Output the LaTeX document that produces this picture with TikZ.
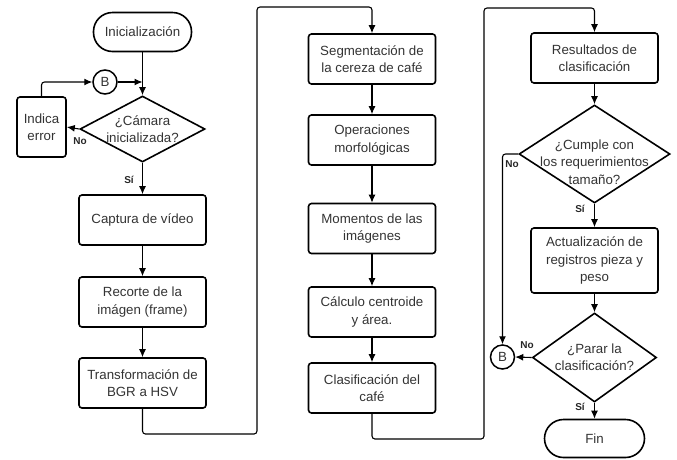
\documentclass[tikz,border=0pt]{standalone}
\usepackage{fontspec}
\setmainfont{Liberation Sans}
\usetikzlibrary{shapes.geometric,arrows.meta}
\tikzset{
 txt/.style={font=\fontsize{13.3}{17.3}\selectfont, text=black!80},
 box/.style={draw, line width=1.6pt, rounded corners=3pt, minimum width=127pt, minimum height=50pt, align=center, inner sep=1pt, txt},
 term/.style={draw, line width=1.6pt, rounded corners=19pt, minimum width=98pt, minimum height=39pt, txt},
 dec/.style={draw, diamond, line width=1.6pt, inner sep=0pt},
 conn/.style={draw, circle, line width=1.5pt, minimum size=24pt, inner sep=0pt, txt},
 arr/.style={line width=1.1pt, -{Latex[length=8pt,width=7pt]}},
 lab/.style={font=\bfseries\fontsize{10}{12}\selectfont, text=black!85, inner sep=0pt}
}
\begin{document}
\begin{tikzpicture}[x=1pt,y=-1pt]
\useasboundingbox (0,0) rectangle (677,459);
% column 1
\node[term] (ini) at (142.5,32) {Inicialización};
\node[conn] (b1) at (105,82) {B};
\node[dec, minimum width=125pt, minimum height=66pt,
  label={[txt,align=center]center:{¿Cámara\\inicializada?}}] (d1) at (142.5,129) {};
\node[box, minimum width=49pt, minimum height=60pt] (err) at (41.5,127) {Indica\\error};
\node[box] (cap) at (142.5,220) {Captura de vídeo};
\node[box] (rec) at (142.5,302) {Recorte de la\\imágen (frame)};
\node[box] (tra) at (142.5,383) {Transformación de\\BGR a HSV};
% column 2
\node[box] (seg) at (372,59) {Segmentación de\\la cereza de café};
\node[box] (ope) at (372,140) {Operaciones\\morfológicas};
\node[box] (mom) at (372,228.5) {Momentos de las\\imágenes};
\node[box] (cal) at (372,312) {Cálculo centroide\\y área.};
\node[box] (cla) at (372,388) {Clasificación del\\café};
% column 3
\node[box] (res) at (594.5,58) {Resultados de\\clasificación};
\node[dec, minimum width=151pt, minimum height=98pt,
  label={[txt,align=center,yshift=-8pt]center:{¿Cumple con\\los requerimientos\\tamaño?}}] (d2) at (594.5,154) {};
\node[box, minimum height=65pt] (act) at (594.5,260.5) {Actualización de\\registros pieza y\\peso};
\node[dec, minimum width=124pt, minimum height=89pt,
  label={[txt,align=center]center:{¿Parar la\\clasificación?}}] (d3) at (594.5,357.5) {};
\node[conn] (b2) at (502.5,357) {B};
\node[term, minimum width=100pt, minimum height=38pt] (fin) at (594.5,438.5) {Fin};
% labels
\node[lab] (l1) at (80,141) {No};
\node[lab] (l2) at (129,180) {Sí};
\node[lab] (l3) at (512,164) {No};
\node[lab] (l4) at (580,209) {Sí};
\node[lab] (l5) at (527,345) {No};
\node[lab] (l6) at (580,407) {Sí};
% coordinates
\coordinate (j1) at (ini.south |- b1);
\coordinate (p1) at (142.5,434);
\coordinate (p2) at (257,434);
\coordinate (p3) at (257,7);
\coordinate (p4) at (372,7);
\coordinate (q1) at (372,439);
\coordinate (q2) at (484,439);
\coordinate (q3) at (484,8);
\coordinate (q4) at (594.5,8);
% connectors
\draw[arr] (ini.south) -- (d1.north);
\draw[arr] (b1.east) -- (j1);
\draw[arr] (d1.west) -- (err.east);
\draw[arr, rounded corners=3pt] (err.north) |- (b1.west);
\draw[arr] (d1.south) -- (cap.north);
\draw[arr] (cap) -- (rec);
\draw[arr] (rec) -- (tra);
\draw[arr, rounded corners=3pt] (tra.south) -- (p1) -- (p2) -- (p3) -- (p4) -- (seg.north);
\draw[arr] (seg) -- (ope);
\draw[arr] (ope) -- (mom);
\draw[arr] (mom) -- (cal);
\draw[arr] (cal) -- (cla);
\draw[arr, rounded corners=3pt] (cla.south) -- (q1) -- (q2) -- (q3) -- (q4) -- (res.north);
\draw[arr] (res) -- (d2);
\draw[arr, rounded corners=3pt] (d2.west) -| (b2.north);
\draw[arr] (d2.south) -- (act.north);
\draw[arr] (act) -- (d3);
\draw[arr] (d3.west) -- (b2.east);
\draw[arr] (d3.south) -- (fin.north);
\end{tikzpicture}
\end{document}
